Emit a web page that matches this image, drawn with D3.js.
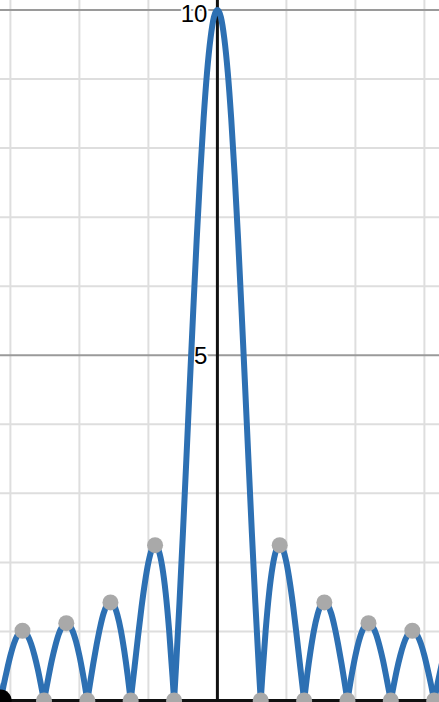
<!DOCTYPE html>
<html>
<head>
<meta charset="utf-8">
<script src="https://cdn.jsdelivr.net/npm/d3@7"></script>
<style>
  html, body { margin: 0; padding: 0; background: #fff; overflow: hidden; }
  svg { display: block; }
</style>
</head>
<body>
<svg id="chart" width="439" height="702"></svg>
<script>
// ---- data ----
const curveX = [-3.25, -3.2, -3.142, -3.1, -3.05, -3.0, -2.95, -2.9, -2.85, -2.8, -2.75, -2.7, -2.65, -2.6, -2.55, -2.513,
  -2.5, -2.45, -2.4, -2.35, -2.3, -2.25, -2.2, -2.15, -2.1, -2.05, -2.0, -1.95, -1.885,
  -1.85, -1.8, -1.75, -1.7, -1.65, -1.6, -1.55, -1.5, -1.45, -1.4, -1.35, -1.3, -1.257,
  -1.2, -1.15, -1.1, -1.05, -1.0, -0.95, -0.9, -0.85, -0.8, -0.75, -0.7, -0.65, -0.628,
  -0.6, -0.55, -0.5, -0.45, -0.4, -0.35, -0.3, -0.25, -0.2, -0.15, -0.1, -0.05, 0,
  0.05, 0.1, 0.15, 0.2, 0.25, 0.3, 0.35, 0.4, 0.45, 0.5, 0.55, 0.6, 0.628,
  0.65, 0.7, 0.75, 0.8, 0.85, 0.9, 0.95, 1.0, 1.05, 1.1, 1.15, 1.2, 1.257,
  1.3, 1.35, 1.4, 1.45, 1.5, 1.55, 1.6, 1.65, 1.7, 1.75, 1.8, 1.85, 1.885,
  1.95, 2.0, 2.05, 2.1, 2.15, 2.2, 2.25, 2.3, 2.35, 2.4, 2.45, 2.5, 2.513,
  2.55, 2.6, 2.65, 2.7, 2.75, 2.8, 2.85, 2.9, 2.95, 3.0, 3.05, 3.1, 3.142, 3.2, 3.25];
const curveY = [0.52, 0.29, 0, 0.21, 0.44, 0.65, 0.82, 0.94, 1.00, 1.01, 0.94, 0.82, 0.65, 0.44, 0.19, 0,
  0.07, 0.33, 0.58, 0.79, 0.96, 1.07, 1.12, 1.10, 1.01, 0.86, 0.65, 0.39, 0,
  0.22, 0.53, 0.81, 1.06, 1.26, 1.38, 1.42, 1.38, 1.24, 1.02, 0.72, 0.36, 0,
  0.49, 0.93, 1.35, 1.71, 2.00, 2.19, 2.25, 2.17, 1.94, 1.56, 1.02, 0.34, 0,
  0.48, 1.41, 2.42, 3.49, 4.58, 5.65, 6.68, 7.61, 8.43, 9.10, 9.59, 9.90, 10,
  9.90, 9.59, 9.10, 8.43, 7.61, 6.68, 5.65, 4.58, 3.49, 2.42, 1.41, 0.48, 0,
  0.34, 1.02, 1.56, 1.94, 2.17, 2.25, 2.19, 2.00, 1.71, 1.35, 0.93, 0.49, 0,
  0.36, 0.72, 1.02, 1.24, 1.38, 1.42, 1.38, 1.26, 1.06, 0.81, 0.53, 0.22, 0,
  0.39, 0.65, 0.86, 1.01, 1.10, 1.12, 1.07, 0.96, 0.79, 0.58, 0.33, 0.07, 0,
  0.19, 0.44, 0.65, 0.82, 0.94, 1.01, 1.00, 0.94, 0.82, 0.65, 0.44, 0.21, 0, 0.29, 0.52];
const zeroX = [-3.142, -2.513, -1.885, -1.257, -0.628, 0.628, 1.257, 1.885, 2.513, 3.142];
const peakX = [-2.825, -2.19, -1.55, -0.903, 0.903, 1.55, 2.19, 2.825];
const peakY = [1.01, 1.12, 1.42, 2.25, 2.25, 1.42, 1.12, 1.01];
const selectedX = [-3.142];
const selectedY = [0];
const gridX = [-3, -2, -1, 1, 2, 3];
const gridY = [1, 2, 3, 4, 6, 7, 8, 9];
const majorY = [5, 10];
const tickLabels = ["5", "10"];

// ---- drawing ----
const W = 439, H = 702;
const svg = d3.select("#chart");
const x = d3.scaleLinear().domain([0, 1]).range([217.4, 217.4 + 69.0]);
const y = d3.scaleLinear().domain([0, 10]).range([700.5, 10]);

// minor grid
svg.append("g").selectAll("line").data(gridX).join("line")
  .attr("x1", d => x(d)).attr("x2", d => x(d)).attr("y1", 0).attr("y2", H)
  .attr("stroke", "#dedede").attr("stroke-width", 2);
svg.append("g").selectAll("line").data(gridY).join("line")
  .attr("x1", 0).attr("x2", W).attr("y1", d => y(d)).attr("y2", d => y(d))
  .attr("stroke", "#dedede").attr("stroke-width", 2);
// major grid
svg.append("g").selectAll("line").data(majorY).join("line")
  .attr("x1", 0).attr("x2", W).attr("y1", d => y(d)).attr("y2", d => y(d))
  .attr("stroke", "#9a9a9a").attr("stroke-width", 2);

// axes
svg.append("line").attr("x1", x(0)).attr("x2", x(0)).attr("y1", 0).attr("y2", H)
  .attr("stroke", "#111").attr("stroke-width", 3);
svg.append("line").attr("x1", 0).attr("x2", W).attr("y1", y(0)).attr("y2", y(0))
  .attr("stroke", "#111").attr("stroke-width", 3);

// tick labels (the top one is nudged down to stay inside the view)
svg.append("g").selectAll("text").data(majorY).join("text")
  .attr("x", x(0) - 10).attr("y", d => Math.max(y(d), 13.5))
  .attr("dy", "0.36em")
  .attr("text-anchor", "end")
  .attr("font-family", "Arial, 'Liberation Sans', sans-serif")
  .attr("font-size", 24)
  .attr("fill", "#000")
  .attr("stroke", "#fff").attr("stroke-width", 4).attr("paint-order", "stroke")
  .text((d, i) => tickLabels[i]);

// curve: split into lobes at zero crossings
const pts = curveX.map((d, i) => [d, curveY[i]]);
const lobes = [];
let cur = [];
pts.forEach((p, i) => {
  cur.push(p);
  if (p[1] === 0 && cur.length > 1) { lobes.push(cur); cur = [p]; }
});
if (cur.length > 1) lobes.push(cur);

const line = d3.line().x(d => x(d[0])).y(d => y(d[1])).curve(d3.curveMonotoneX);
svg.append("g").selectAll("path").data(lobes).join("path")
  .attr("d", line)
  .attr("fill", "none")
  .attr("stroke", "#2d70b3")
  .attr("stroke-width", 6)
  .attr("stroke-linejoin", "round")
  .attr("stroke-linecap", "round");

// points of interest
svg.append("g").selectAll("circle").data(zeroX).join("circle")
  .attr("cx", d => x(d)).attr("cy", y(0)).attr("r", 8)
  .attr("fill", "#a9a9a9");
svg.append("g").selectAll("circle").data(peakX).join("circle")
  .attr("cx", d => x(d)).attr("cy", (d, i) => y(peakY[i])).attr("r", 8)
  .attr("fill", "#a9a9a9");
svg.append("g").selectAll("circle").data(selectedX).join("circle")
  .attr("cx", d => x(d)).attr("cy", (d, i) => y(selectedY[i])).attr("r", 11)
  .attr("fill", "#000");
</script>
</body>
</html>
